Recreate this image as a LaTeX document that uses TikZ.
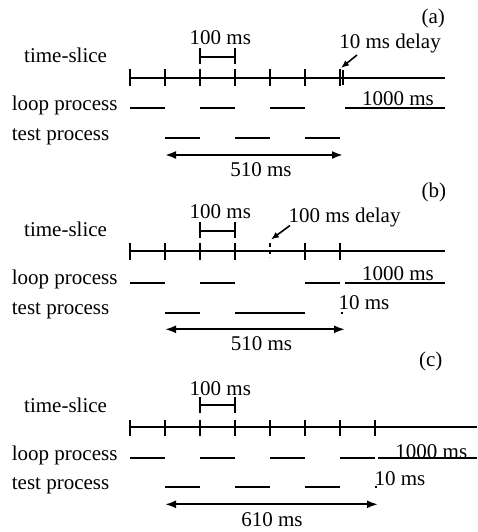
\documentclass[tikz,border=0pt]{standalone}
\usepackage{fontspec}
\setmainfont{Liberation Serif}
\usetikzlibrary{arrows.meta}
\begin{document}
\begin{tikzpicture}[x=1pt,y=-1pt,
  lbl/.style={inner sep=0pt,font=\fontsize{21}{25}\selectfont},
  axis/.style={line width=2pt},
  tick/.style={line width=2pt},
  seg/.style={line width=2pt},
  span/.style={line width=2pt,{Latex[length=11pt,width=8pt]}-{Latex[length=11pt,width=8pt]}},
  pointer/.style={line width=1.6pt,-{Latex[length=8pt,width=6.5pt]}}]
\useasboundingbox (0,0) rectangle (477,532);

% ---------------- (a) ----------------
\node[lbl] (tagA) at (433.3,18.3) {(a)};
\node[lbl] (msA) at (220.3,38) {100 ms};
\node[lbl,anchor=west] (tsA) at (24,55) {time-slice};
\node[lbl,anchor=base] (delA) at (390,49) {10 ms delay};
\node[lbl,anchor=west] (lpA) at (11.7,105.8) {loop process};
\node[lbl,anchor=west] (tpA) at (11.7,137) {test process};
\node[lbl] (kA) at (398,99) {1000 ms};
\node[lbl] (spA) at (261,170) {510 ms};
% 100 ms bracket
\draw[tick] (200,48.5) -- (200,64.5) (235,48.5) -- (235,64.5);
\draw[tick] (200,56.7) -- (235,56.7);
% time axis
\coordinate (a0) at (130,77.7);
\coordinate (a1) at (445,77.7);
\draw[axis] (a0) -- (a1);
\foreach \x in {130,165,200,235,270,305,340}
  \draw[tick] (\x,69) -- (\x,86.5);
\draw[line width=1.6pt] (343,70.5) -- (343,85);
\coordinate (pA) at (357,55);
\coordinate (dA) at (341,68);
\draw[pointer] (pA) -- (dA);
% loop process
\draw[seg] (130,107.7) -- (165,107.7) (200,107.7) -- (235,107.7)
           (270,107.7) -- (305,107.7) (345,107.7) -- (445,107.7);
% test process
\draw[seg] (165,138.3) -- (200,138.3) (235,138.3) -- (270,138.3)
           (305,138.3) -- (340,138.3);
\coordinate (sA0) at (165,155);
\coordinate (sA1) at (343,155);
\draw[span] (sA0) -- (sA1);

% ---------------- (b) ----------------
\node[lbl] (tagB) at (433.8,192.2) {(b)};
\node[lbl] (msB) at (220.3,211.7) {100 ms};
\node[lbl,anchor=west] (tsB) at (24,229.7) {time-slice};
\node[lbl,anchor=base] (delB) at (344.5,222.3) {100 ms delay};
\node[lbl,anchor=west] (lpB) at (11.7,279.5) {loop process};
\node[lbl,anchor=west] (tpB) at (11.7,311.3) {test process};
\node[lbl] (kB) at (398,273.3) {1000 ms};
\node[lbl] (tenB) at (364,303) {10 ms};
\node[lbl] (spB) at (261.5,343.3) {510 ms};
\draw[tick] (200,222) -- (200,238) (235,222) -- (235,238);
\draw[tick] (200,231) -- (235,231);
\coordinate (b0) at (130,251);
\coordinate (b1) at (445,251);
\draw[axis] (b0) -- (b1);
\foreach \x in {130,165,200,235,305,340}
  \draw[tick] (\x,243) -- (\x,260);
\draw[line width=1.6pt,dash pattern=on 4pt off 3pt] (270,243) -- (270,257);
\coordinate (pB) at (290,225.5);
\coordinate (dB) at (271,239.5);
\draw[pointer] (pB) -- (dB);
\draw[seg] (130,282.7) -- (165,282.7) (200,282.7) -- (235,282.7)
           (305,282.7) -- (340,282.7) (345,282.7) -- (445,282.7);
\draw[seg] (165,313.3) -- (200,313.3) (235,313.3) -- (305,313.3)
           (340.5,313.3) -- (342.5,313.3);
\coordinate (sB0) at (165,329.3);
\coordinate (sB1) at (345,329.3);
\draw[span] (sB0) -- (sB1);

% ---------------- (c) ----------------
\node[lbl] (tagC) at (430.8,361.7) {(c)};
\node[lbl] (msC) at (220.3,388.3) {100 ms};
\node[lbl,anchor=west] (tsC) at (24,405.5) {time-slice};
\node[lbl,anchor=west] (lpC) at (11.7,455.3) {loop process};
\node[lbl,anchor=west] (tpC) at (11.7,485.5) {test process};
\node[lbl] (kC) at (431.3,451.3) {1000 ms};
\node[lbl] (tenC) at (400,478.3) {10 ms};
\node[lbl] (spC) at (272,520) {610 ms};
\draw[tick] (200,397) -- (200,413) (235,397) -- (235,413);
\draw[tick] (200,404.5) -- (235,404.5);
\coordinate (c0) at (130,427.3);
\coordinate (c1) at (477,427.3);
\draw[axis] (c0) -- (c1);
\foreach \x in {130,165,200,235,270,305,340,375}
  \draw[tick] (\x,419.5) -- (\x,436);
\draw[seg] (130,457.7) -- (165,457.7) (200,457.7) -- (235,457.7)
           (270,457.7) -- (305,457.7) (340,457.7) -- (375,457.7)
           (378,457.7) -- (477,457.7);
\draw[seg] (165,486.7) -- (200,486.7) (235,486.7) -- (270,486.7)
           (305,486.7) -- (340,486.7) (375,486.7) -- (377,486.7);
\coordinate (sC0) at (165,504.3);
\coordinate (sC1) at (378,504.3);
\draw[span] (sC0) -- (sC1);
\end{tikzpicture}
\end{document}
